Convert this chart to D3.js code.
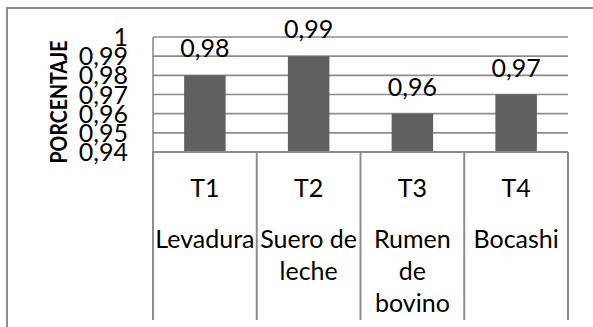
<!DOCTYPE html>
<html>
<head>
<meta charset="utf-8">
<script src="https://cdn.jsdelivr.net/npm/d3@7"></script>
<style>
  html, body { margin: 0; padding: 0; background: #ffffff; }
  svg { display: block; }
  text { font-family: Lato, "Open Sans", sans-serif; fill: #000; }
</style>
</head>
<body>
<svg id="chart" width="593" height="327"></svg>
<script>
// Treatments and their measured percentages
const codes = ["T1", "T2", "T3", "T4"];
const names = [["Levadura"], ["Suero de", "leche"], ["Rumen", "de", "bovino"], ["Bocashi"]];
const values = [0.98, 0.99, 0.96, 0.97];
const yTicks = [0.94, 0.95, 0.96, 0.97, 0.98, 0.99, 1];
const yTickLabels = ["0,94", "0,95", "0,96", "0,97", "0,98", "0,99", "1"];
const valueLabels = ["0,98", "0,99", "0,96", "0,97"];
const yTitle = "PORCENTAJE";

const svg = d3.select("#chart");
const grid = "#8c8c8c";
const plot = { left: 153, right: 568, top: 37, bottom: 152 };

const x = d3.scaleBand().domain(codes).range([plot.left, plot.right]).paddingInner(0).paddingOuter(0);
const y = d3.scaleLinear().domain([0.94, 1]).range([plot.bottom, plot.top]);
const barW = x.bandwidth() * 0.4;

// outer frame (left and top edges)
svg.append("path")
  .attr("d", "M7,327 V8 H593")
  .attr("fill", "none").attr("stroke", grid).attr("stroke-width", 2);

// horizontal gridlines
svg.append("g").selectAll("line").data(yTicks).join("line")
  .attr("x1", plot.left).attr("x2", plot.right)
  .attr("y1", d => y(d)).attr("y2", d => y(d))
  .attr("stroke", grid).attr("stroke-width", 1.6);

// bars
svg.append("g").selectAll("rect").data(values).join("rect")
  .attr("x", (d, i) => x(codes[i]) + (x.bandwidth() - barW) / 2)
  .attr("width", barW)
  .attr("y", d => y(d))
  .attr("height", d => y(0.94) - y(d))
  .attr("fill", "#606060");

// value axis line
svg.append("line")
  .attr("x1", plot.left).attr("x2", plot.left)
  .attr("y1", plot.top).attr("y2", plot.bottom)
  .attr("stroke", grid).attr("stroke-width", 1.6);

// category table lines below the plot
const edges = codes.map(c => x(c)).concat([plot.right]);
svg.append("g").selectAll("line").data(edges).join("line")
  .attr("x1", d => d).attr("x2", d => d)
  .attr("y1", plot.bottom).attr("y2", 320)
  .attr("stroke", grid).attr("stroke-width", 2);
svg.append("line")
  .attr("x1", plot.left).attr("x2", plot.right)
  .attr("y1", plot.bottom).attr("y2", plot.bottom)
  .attr("stroke", grid).attr("stroke-width", 2);

// y tick labels
svg.append("g").selectAll("text").data(yTicks).join("text")
  .attr("x", 128)
  .attr("y", d => y(d) + 9)
  .attr("text-anchor", "end")
  .attr("font-size", 25)
  .text((d, i) => yTickLabels[i]);

// y axis title
svg.append("text")
  .attr("transform", "translate(67,102) rotate(-90)")
  .attr("text-anchor", "middle")
  .attr("font-size", 22)
  .attr("font-weight", "bold")
  .attr("textLength", 123)
  .attr("lengthAdjust", "spacingAndGlyphs")
  .text(yTitle);

// value labels above bars
svg.append("g").selectAll("text").data(values).join("text")
  .attr("x", (d, i) => x(codes[i]) + x.bandwidth() / 2)
  .attr("y", d => y(d) - 18)
  .attr("text-anchor", "middle")
  .attr("font-size", 25)
  .text((d, i) => valueLabels[i]);

// category labels: code, then wrapped name
const cat = svg.append("g").selectAll("g").data(codes).join("g")
  .attr("transform", d => `translate(${x(d) + x.bandwidth() / 2},0)`);
cat.append("text")
  .attr("y", 197)
  .attr("text-anchor", "middle")
  .attr("font-size", 25)
  .text(d => d);
cat.each(function(d, i) {
  d3.select(this).selectAll("text.name").data(names[i]).join("text")
    .attr("class", "name")
    .attr("y", (t, k) => 248 + k * 32)
    .attr("text-anchor", "middle")
    .attr("font-size", 25)
    .text(t => t);
});
</script>
</body>
</html>
